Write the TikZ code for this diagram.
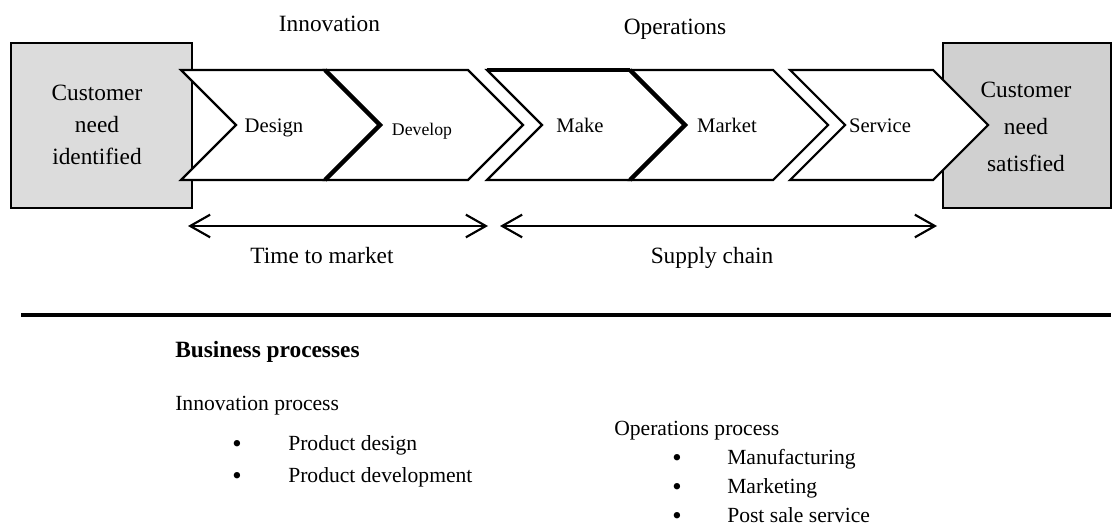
\documentclass[tikz,border=0pt]{standalone}
\usepackage{fontspec}
\setmainfont{Liberation Serif}
\usetikzlibrary{arrows.meta}
\definecolor{graylt}{RGB}{220,220,220}
\definecolor{graydk}{RGB}{208,208,208}
\newcommand{\mychev}[2]{\path[chev] (#1,70) -- (#2,70) -- ++(55,55) -- (#2,180) -- (#1,180) -- ++(55,-55) -- cycle;}
\begin{document}
\begin{tikzpicture}[x=0.75pt,y=-0.75pt,
  chev/.style={draw=black,fill=white,line width=1.6pt,line join=miter},
  thickedge/.style={line width=3.4pt,line join=miter},
  cbox/.style={draw=black,line width=2.2pt},
  lbl/.style={font=\fontsize{17.5}{21}\selectfont,anchor=base,inner sep=0pt},
  boxtext/.style={font=\fontsize{17.5}{24}\selectfont,align=center,inner sep=0pt},
  ctext/.style={font=\fontsize{15.5}{18}\selectfont,anchor=base,inner sep=0pt},
  btext/.style={font=\fontsize{16.2}{19}\selectfont,anchor=base west,inner sep=0pt},
  bul/.style={font=\fontsize{20}{20}\selectfont,anchor=base,inner sep=0pt},
  spanarrow/.style={line width=1.6pt,{Straight Barb[length=15pt,width=17pt,line width=1.6pt]}-{Straight Barb[length=15pt,width=17pt,line width=1.6pt]}}
]
\useasboundingbox (0,0) rectangle (1117,531);
% end boxes
\path[cbox,fill=graylt] (11,43) rectangle (192,208);
\path[cbox,fill=graydk] (943,43) rectangle (1111,208);
% chevrons
\mychev{181}{325}
\mychev{325}{468}
\mychev{487}{630}
\mychev{630}{773}
\mychev{790}{933}
\draw[thickedge] (325,70) -- (380,125) -- (325,180);
\draw[thickedge] (630,70) -- (685,125) -- (630,180);
\draw[line width=2.6pt] (487,70) -- (630,70);
% box texts
\node[boxtext] (cni) at (97,125) {Customer\\need\\identified};
\node[boxtext,font=\fontsize{17.5}{28}\selectfont] (cns) at (1026,127) {Customer\\need\\satisfied};
% chevron texts
\node[ctext] (design) at (274,133) {Design};
\node[ctext,font=\fontsize{13.3}{16}\selectfont] (develop) at (422,136) {Develop};
\node[ctext] (make) at (580,133) {Make};
\node[ctext] (market) at (727,133) {Market};
\node[ctext] (service) at (880,133) {Service};
% top labels
\node[lbl] (innov) at (329.5,32) {Innovation};
\node[lbl] (oper) at (675,35) {Operations};
% span arrows
\coordinate (ta) at (188,226);
\coordinate (tb) at (488,226);
\coordinate (sa) at (500,226);
\coordinate (sb) at (937,226);
\draw[spanarrow] (ta) -- (tb);
\draw[spanarrow] (sa) -- (sb);
\node[lbl] (ttm) at (322,263) {Time to market};
\node[lbl] (sc) at (712,263) {Supply chain};
% rule
\coordinate (ra) at (21,315);
\coordinate (rb) at (1111,315);
\draw[line width=2.3pt] (ra) -- (rb);
% business processes
\node[btext,font=\fontsize{17.5}{21}\selectfont\bfseries] (bp) at (175,357) {Business processes};
\node[btext] (ip) at (175,410) {Innovation process};
\node[bul] (b1) at (237,452.6) {\textbullet};
\node[btext] (pd) at (288,450) {Product design};
\node[bul] (b2) at (237,484.6) {\textbullet};
\node[btext] (pdev) at (288,482) {Product development};
\node[btext] (op) at (614,435) {Operations process};
\node[bul] (b3) at (677,466.6) {\textbullet};
\node[btext] (mf) at (727,464) {Manufacturing};
\node[bul] (b4) at (677,495.6) {\textbullet};
\node[btext] (mk) at (727,493) {Marketing};
\node[bul] (b5) at (677,524.6) {\textbullet};
\node[btext] (ps) at (727,522) {Post sale service};
\end{tikzpicture}
\end{document}
